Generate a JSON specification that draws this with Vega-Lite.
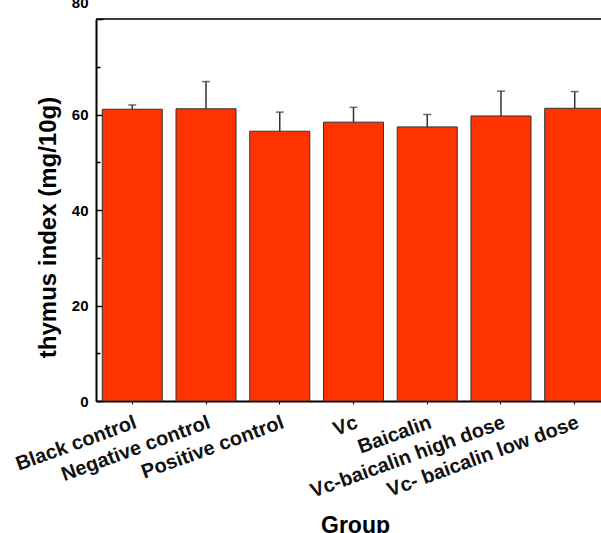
{
  "$schema": "https://vega.github.io/schema/vega-lite/v6.json",
  "autosize": "none",
  "padding": {"left": 96, "top": 19, "right": 0, "bottom": 132},
  "width": 505,
  "height": 382,
  "background": "white",
  "config": {"view": {"stroke": null}},
  "data": {"values": [
    {"group": "Black control", "value": 61.1, "upper": 62.0},
    {"group": "Negative control", "value": 61.2, "upper": 66.9},
    {"group": "Positive control", "value": 56.5, "upper": 60.5},
    {"group": "Vc", "value": 58.4, "upper": 61.5},
    {"group": "Baicalin", "value": 57.4, "upper": 60.0},
    {"group": "Vc-baicalin high dose", "value": 59.7, "upper": 64.9},
    {"group": "Vc- baicalin low dose", "value": 61.3, "upper": 64.8}
  ]},
  "encoding": {
    "x": {
      "field": "group", "type": "nominal", "sort": null,
      "scale": {"type": "band", "paddingInner": 0.186, "paddingOuter": 0.085, "range": [0, 515]},
      "axis": {
        "title": "Group", "titleFont": "Liberation Sans", "titleFontSize": 23, "titleFontWeight": "bold", "titleColor": "black",
        "titleX": 259, "titleY": 131, "titleAlign": "center", "titleBaseline": "alphabetic",
        "labelFont": "Liberation Sans", "labelFontSize": 20, "labelFontWeight": "bold", "labelColor": "#111111",
        "labelAngle": -20, "labelAlign": "right", "labelBaseline": "top", "labelPadding": 8,
        "labelLimit": 0, "labelOverlap": false, "labelBound": false, "labelFlush": false,
        "domainColor": "black", "domainWidth": 2, "tickColor": "black", "tickWidth": 1, "tickSize": 3
      }
    }
  },
  "layer": [
    {
      "mark": {"type": "bar", "fill": "#FF3300", "stroke": "#333333", "strokeWidth": 1},
      "encoding": {
        "y": {
          "field": "value", "type": "quantitative",
          "scale": {"domain": [0, 80], "nice": false, "zero": true},
          "axis": {
            "title": "thymus index (mg/10g)", "titleFont": "Liberation Sans", "titleFontSize": 24, "titleFontWeight": "bold", "titleColor": "black",
            "titleX": -48, "titleY": 208, "titleAlign": "center", "titleBaseline": "middle", "titleAngle": -90,
            "values": [0, 10, 20, 30, 40, 50, 60, 70, 80],
            "labelExpr": "datum.value % 20 == 0 ? datum.label : ''",
            "labelFont": "Liberation Sans", "labelFontSize": 15, "labelFontWeight": "bold", "labelColor": "black",
            "labelPadding": 15,
            "labelOffset": {"condition": {"test": "datum.value == 80", "value": -17}, "value": 0},
            "labelBound": false, "labelFlush": false, "labelOverlap": false,
            "domainColor": "black", "domainWidth": 2, "tickColor": "black", "tickWidth": 1.5,
            "tickSize": {"condition": {"test": "datum.value % 20 == 0", "value": -7}, "value": -4},
            "grid": false
          }
        }
      }
    },
    {
      "mark": {"type": "rule", "color": "#333333", "strokeWidth": 1.5},
      "encoding": {
        "y": {"field": "value", "type": "quantitative"},
        "y2": {"field": "upper"}
      }
    },
    {
      "mark": {"type": "tick", "color": "#333333", "thickness": 1.5, "size": 8},
      "encoding": {
        "y": {"field": "upper", "type": "quantitative"}
      }
    },
    {
      "data": {"values": [{"top": 80}]},
      "mark": {"type": "rule", "color": "black", "strokeWidth": 1.5},
      "encoding": {
        "x": null,
        "y": {"field": "top", "type": "quantitative"}
      }
    }
  ]
}
